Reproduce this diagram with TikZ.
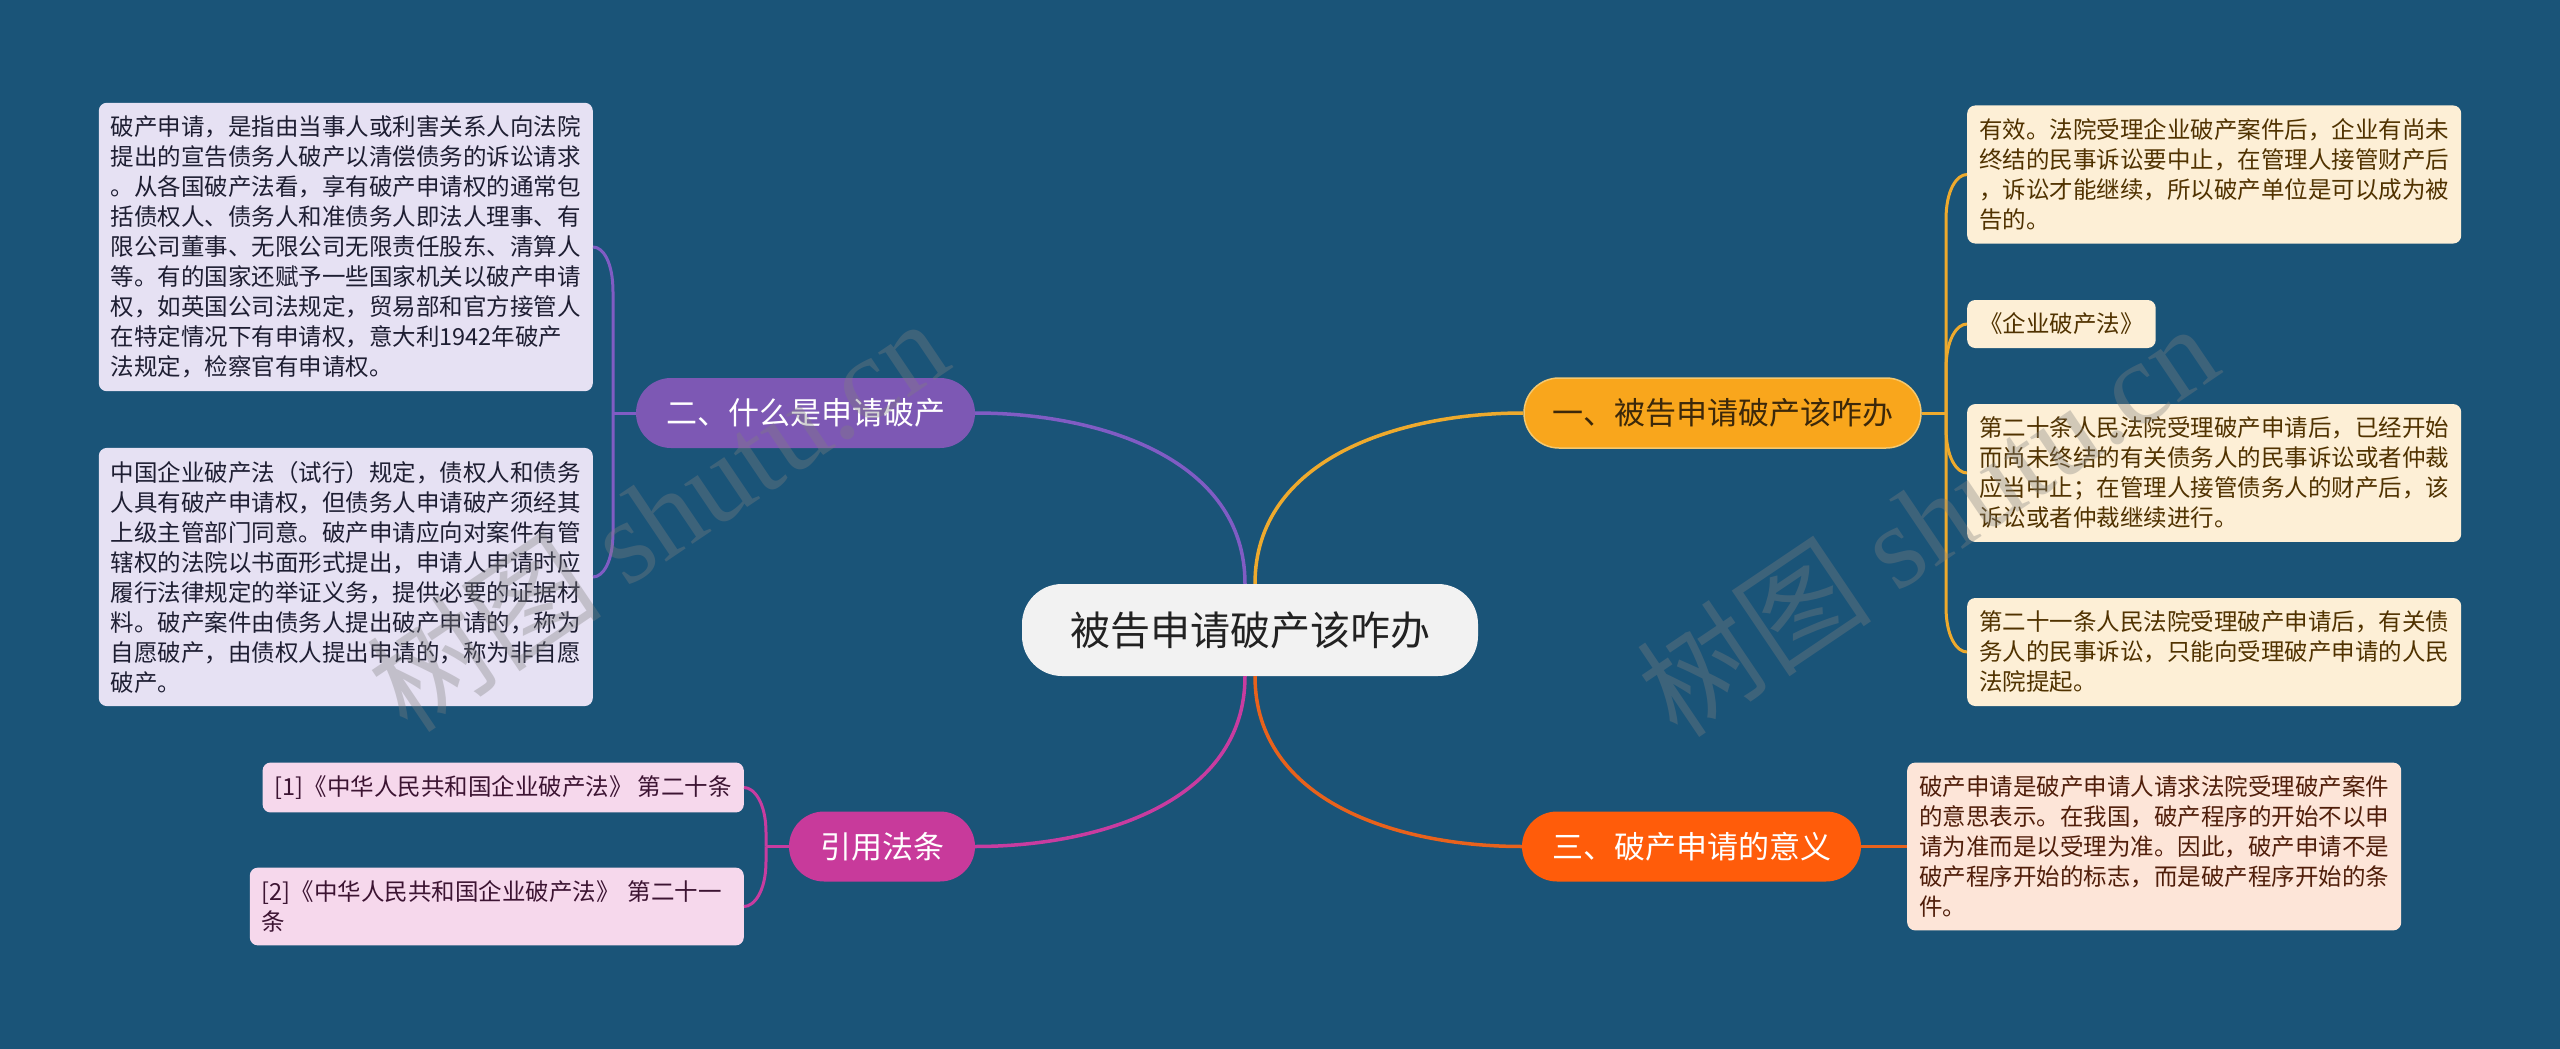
\documentclass[tikz,border=0pt]{standalone}
\usepackage{fontspec}
\newfontfamily\cjk{Noto Sans CJK SC}
\newfontfamily\wmlatin{Liberation Serif}
\usepackage{xcolor}
\usepackage{tikz}
\usetikzlibrary{positioning, calc}

\definecolor{bgblue}{RGB}{26,84,120}
\definecolor{rootgray}{RGB}{242,242,242}
\definecolor{roottext}{RGB}{34,34,34}
\definecolor{ambernode}{RGB}{249,166,28}
\definecolor{amberline}{RGB}{238,170,45}
\definecolor{ambertext}{RGB}{60,40,10}
\definecolor{amberleaf}{RGB}{253,239,214}
\definecolor{amberleaftext}{RGB}{80,50,0}
\definecolor{violetnode}{RGB}{125,88,180}
\definecolor{violetline}{RGB}{128,92,196}
\definecolor{violetleaf}{RGB}{230,225,243}
\definecolor{violetleaftext}{RGB}{30,30,50}
\definecolor{rednode}{RGB}{255,92,10}
\definecolor{redline}{RGB}{232,98,28}
\definecolor{redleaf}{RGB}{253,229,216}
\definecolor{redleaftext}{RGB}{80,30,10}
\definecolor{pinknode}{RGB}{200,58,155}
\definecolor{pinkline}{RGB}{200,60,160}
\definecolor{pinkleaf}{RGB}{246,216,236}
\definecolor{pinkleaftext}{RGB}{60,20,50}

\begin{document}
\begin{tikzpicture}[
    x=1pt, y=-1pt,
    rootbox/.style={rectangle, rounded corners=40pt, fill=rootgray, text=roottext, minimum width=456pt, minimum height=92pt, font=\cjk\fontsize{40}{48}\selectfont},
    topic/.style={rectangle, rounded corners=35pt, minimum height=70pt, font=\cjk\fontsize{31}{36}\selectfont},
    leafbox/.style={rectangle, rounded corners=8pt, align=left, inner xsep=12pt, inner ysep=13pt, font=\cjk\fontsize{23.5}{30}\selectfont},
    leaf/.style={leafbox, text width=470pt},
    branch/.style={line width=3.5pt},
    twig/.style={line width=3pt},
    wmark/.style={rotate=34, text=gray, opacity=0.35, font=\cjk\fontsize{118}{118}\selectfont}
]

\useasboundingbox (0,0) rectangle (2560,1049);
\fill[bgblue] (0,0) rectangle (2560,1049);

% centre and main topics
\node[rootbox] (c) at (1250,630) {被告申请破产该咋办};
\node[topic, fill=ambernode, draw={rgb,255:red,245;green,200;blue,110}, line width=1.5pt, text=ambertext, minimum width=397pt] (b1) at (1722.5,413) {一、被告申请破产该咋办};
\node[topic, fill=violetnode, text=white, minimum width=339pt] (b2) at (805.5,413) {二、什么是申请破产};
\node[topic, fill=rednode, text=white, minimum width=339pt] (b3) at (1691.5,846.5) {三、破产申请的意义};
\node[topic, fill=pinknode, text=white, minimum width=186pt] (b4) at (882,846.5) {引用法条};

% branch one
\node[leaf, fill=amberleaf, text=amberleaftext, anchor=west] (l11) at (1967,174.5) {有效。法院受理企业破产案件后，企业有尚未\\终结的民事诉讼要中止，在管理人接管财产后\\，诉讼才能继续，所以破产单位是可以成为被\\告的。};
\node[leafbox, fill=amberleaf, text=amberleaftext, anchor=west] (l12) at (1967,324) {《企业破产法》};
\node[leaf, fill=amberleaf, text=amberleaftext, anchor=west] (l13) at (1967,473) {第二十条人民法院受理破产申请后，已经开始\\而尚未终结的有关债务人的民事诉讼或者仲裁\\应当中止；在管理人接管债务人的财产后，该\\诉讼或者仲裁继续进行。};
\node[leaf, fill=amberleaf, text=amberleaftext, anchor=west] (l14) at (1967,652) {第二十一条人民法院受理破产申请后，有关债\\务人的民事诉讼，只能向受理破产申请的人民\\法院提起。};

% branch two
\node[leaf, fill=violetleaf, text=violetleaftext, anchor=east] (l21) at (593,247) {破产申请，是指由当事人或利害关系人向法院\\提出的宣告债务人破产以清偿债务的诉讼请求\\。从各国破产法看，享有破产申请权的通常包\\括债权人、债务人和准债务人即法人理事、有\\限公司董事、无限公司无限责任股东、清算人\\等。有的国家还赋予一些国家机关以破产申请\\权，如英国公司法规定，贸易部和官方接管人\\在特定情况下有申请权，意大利1942年破产\\法规定，检察官有申请权。};
\node[leaf, fill=violetleaf, text=violetleaftext, anchor=east] (l22) at (593,577) {中国企业破产法（试行）规定，债权人和债务\\人具有破产申请权，但债务人申请破产须经其\\上级主管部门同意。破产申请应向对案件有管\\辖权的法院以书面形式提出，申请人申请时应\\履行法律规定的举证义务，提供必要的证据材\\料。破产案件由债务人提出破产申请的，称为\\自愿破产，由债权人提出申请的，称为非自愿\\破产。};

% branch three
\node[leaf, fill=redleaf, text=redleaftext, anchor=west] (l31) at (1907,846.5) {破产申请是破产申请人请求法院受理破产案件\\的意思表示。在我国，破产程序的开始不以申\\请为准而是以受理为准。因此，破产申请不是\\破产程序开始的标志，而是破产程序开始的条\\件。};

% references
\node[leafbox, fill=pinkleaf, text=pinkleaftext, anchor=east] (l41) at (744,787.5) {[1]《中华人民共和国企业破产法》 第二十条};
\node[leaf, fill=pinkleaf, text=pinkleaftext, anchor=east] (l42) at (744,906.5) {[2]《中华人民共和国企业破产法》 第二十一\\条};

% centre to topics
\draw[branch, amberline] ([xshift=5pt]c.north) .. controls +(0,-125) and +(-125,0) .. (b1.west);
\draw[branch, violetline] ([xshift=-5pt]c.north) .. controls +(0,-125) and +(125,0) .. (b2.east);
\draw[branch, redline] ([xshift=5pt]c.south) .. controls +(0,125) and +(-125,0) .. (b3.west);
\draw[branch, pinkline] ([xshift=-5pt]c.south) .. controls +(0,125) and +(125,0) .. (b4.east);

% topics to leaves
\coordinate (j1) at (1946,413);
\coordinate (j2) at (613,413);
\coordinate (j4) at (766,846.5);
\draw[twig, amberline] (b1.east) -- (j1);
\draw[twig, amberline] (j1) -- ([yshift=-45pt]j1 |- l11.west) .. controls ([yshift=-15pt]j1 |- l11.west) and ([xshift=-10pt]l11.west) .. (l11.west);
\draw[twig, amberline] (j1) -- ([yshift=-45pt]j1 |- l12.west) .. controls ([yshift=-15pt]j1 |- l12.west) and ([xshift=-10pt]l12.west) .. (l12.west);
\draw[twig, amberline] (j1) -- ([yshift=45pt]j1 |- l13.west) .. controls ([yshift=15pt]j1 |- l13.west) and ([xshift=-10pt]l13.west) .. (l13.west);
\draw[twig, amberline] (j1) -- ([yshift=45pt]j1 |- l14.west) .. controls ([yshift=15pt]j1 |- l14.west) and ([xshift=-10pt]l14.west) .. (l14.west);
\draw[twig, violetline] (b2.west) -- (j2);
\draw[twig, violetline] (j2) -- ([yshift=-45pt]j2 |- l21.east) .. controls ([yshift=-15pt]j2 |- l21.east) and ([xshift=10pt]l21.east) .. (l21.east);
\draw[twig, violetline] (j2) -- ([yshift=45pt]j2 |- l22.east) .. controls ([yshift=15pt]j2 |- l22.east) and ([xshift=10pt]l22.east) .. (l22.east);
\draw[twig, redline] (b3.east) -- (l31.west);
\draw[twig, pinkline] (b4.west) -- (j4);
\draw[twig, pinkline] (j4) -- ([yshift=-45pt]j4 |- l41.east) .. controls ([yshift=-15pt]j4 |- l41.east) and ([xshift=10pt]l41.east) .. (l41.east);
\draw[twig, pinkline] (j4) -- ([yshift=45pt]j4 |- l42.east) .. controls ([yshift=15pt]j4 |- l42.east) and ([xshift=10pt]l42.east) .. (l42.east);

% watermarks
\node[wmark] (wm1) at (657,514) {树图 {\wmlatin shutu.cn}};
\node[wmark] (wm2) at (1927,519) {树图 {\wmlatin shutu.cn}};

\end{tikzpicture}
\end{document}
